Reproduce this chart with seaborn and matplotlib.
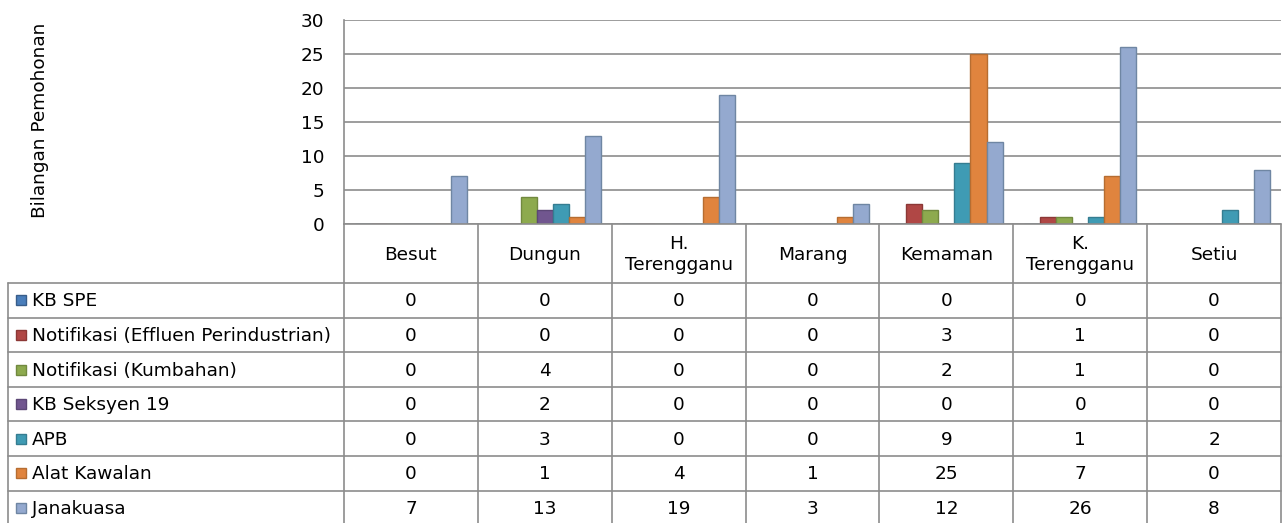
import pandas as pd
import matplotlib
matplotlib.use("Agg")
import matplotlib.pyplot as plt
import seaborn as sns

daerah = ["Besut", "Dungun", "H.\nTerengganu", "Marang", "Kemaman", "K.\nTerengganu", "Setiu"]
jenis = ["KB SPE", "Notifikasi (Effluen Perindustrian)", "Notifikasi (Kumbahan)",
         "KB Seksyen 19", "APB", "Alat Kawalan", "Janakuasa"]
kb_spe = [0, 0, 0, 0, 0, 0, 0]
notif_effluen = [0, 0, 0, 0, 3, 1, 0]
notif_kumbahan = [0, 4, 0, 0, 2, 1, 0]
kb_seksyen19 = [0, 2, 0, 0, 0, 0, 0]
apb = [0, 3, 0, 0, 9, 1, 2]
alat_kawalan = [0, 1, 4, 1, 25, 7, 0]
janakuasa = [7, 13, 19, 3, 12, 26, 8]

edges = ["#385D8A", "#8C3836", "#71893F", "#5C4776", "#357D91", "#B66D31", "#6F86A3"]
fills = ["#4A7EBB", "#B04745", "#8DAA4E", "#71568F", "#3F9BB4", "#E0843E", "#94A9CF"]

series = [kb_spe, notif_effluen, notif_kumbahan, kb_seksyen19, apb, alat_kawalan, janakuasa]
rows = []
for name, vals in zip(jenis, series):
    for d, v in zip(daerah, vals):
        rows.append({"Daerah": d, "Jenis": name, "Bilangan": v})
df = pd.DataFrame(rows)

sns.set_style("white")
plt.rcParams["font.family"] = ["DejaVu Sans"]
plt.rcParams["text.color"] = "black"
plt.rcParams["ytick.color"] = "black"
fs = 13.3

W, H = 1287, 523
fig = plt.figure(figsize=(W / 100, H / 100), dpi=100)

x0, x1, ytop, y0 = 344, 1281, 20, 224
ax = fig.add_axes([x0 / W, 1 - y0 / H, (x1 - x0) / W, (y0 - ytop) / H])
sns.barplot(data=df, x="Daerah", y="Bilangan", hue="Jenis", order=daerah, hue_order=jenis,
            palette=fills, width=0.84, gap=0, legend=False, ax=ax, saturation=1)
for i, cont in enumerate(ax.containers):
    for bar in cont:
        bar.set_edgecolor(edges[i])
        bar.set_linewidth(1.0)
ax.set_ylim(0, 30)
ax.set_yticks(range(0, 31, 5))
ax.set_xlim(-0.5, len(daerah) - 0.5)
ax.set_xticks([])
ax.set_xlabel("")
ax.set_ylabel("")
ax.yaxis.grid(True, color="#8C8C8C", linewidth=1.2)
ax.set_axisbelow(True)
ax.tick_params(axis="y", length=0, pad=14, labelsize=fs, labelcolor="black")
for s in ["top", "right", "bottom"]:
    ax.spines[s].set_visible(False)
ax.spines["left"].set_color("#8C8C8C")
ax.spines["left"].set_linewidth(1.2)

fig.text(40 / W, 1 - 120 / H, "Bilangan Pemohonan", rotation=90, ha="center", va="center",
         fontsize=fs, color="black")

# data table drawn in pixel coordinates
tab = fig.add_axes([0, 0, 1, 1])
tab.set_xlim(0, W)
tab.set_ylim(H, 0)
tab.axis("off")
lc = "#8C8C8C"
lw = 1.2
cw = (x1 - x0) / len(daerah)
hdr_bot = 283
rh = 34.6
n = len(jenis)
tab_bot = hdr_bot + n * rh

tab.plot([x0, x1], [y0, y0], color=lc, lw=lw)
for r in range(n + 1):
    yy = hdr_bot + r * rh
    tab.plot([8, x1], [yy, yy], color=lc, lw=lw)
tab.plot([8, 8], [hdr_bot, tab_bot], color=lc, lw=lw)
for k in range(len(daerah) + 1):
    xx = x0 + k * cw
    tab.plot([xx, xx], [y0, tab_bot], color=lc, lw=lw)

for k, d in enumerate(daerah):
    tab.text(x0 + (k + 0.5) * cw, (y0 + hdr_bot) / 2 + 1, d, ha="center", va="center",
             fontsize=fs, linespacing=1.2, color="black")

for r, (name, vals) in enumerate(zip(jenis, series)):
    yc = hdr_bot + (r + 0.5) * rh
    tab.add_patch(plt.Rectangle((16, yc - 5), 10, 10, facecolor=fills[r],
                                edgecolor=edges[r], lw=1.0))
    tab.text(32, yc + 1, name, ha="left", va="center", fontsize=fs, color="black")
    for k, v in enumerate(vals):
        tab.text(x0 + (k + 0.5) * cw, yc + 1, str(v), ha="center", va="center",
                 fontsize=fs, color="black")

fig.savefig("out.png", dpi=100)
